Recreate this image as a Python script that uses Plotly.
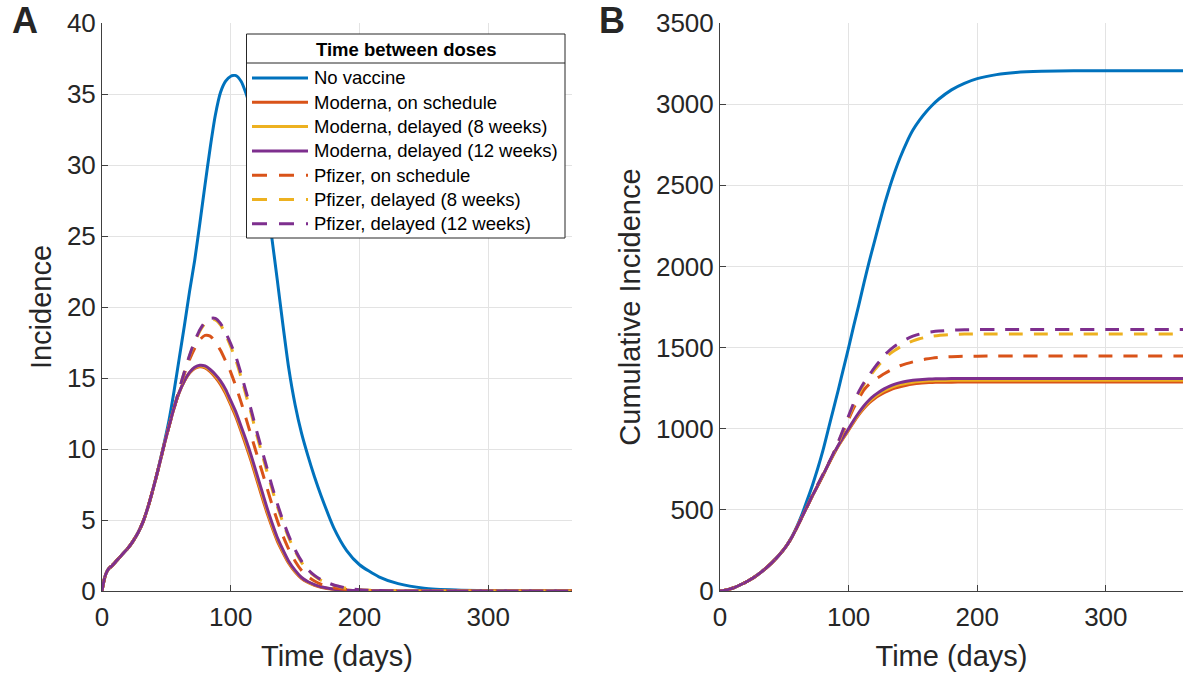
import plotly.graph_objects as go

# ---------------- data ----------------
days = [0, 1, 2, 3, 5, 8, 12, 16, 20, 24, 28, 32, 36, 40, 44, 48, 52, 56, 60, 64,
        68, 72, 76, 80, 84, 88, 92, 96, 100, 104, 108, 112, 116, 120, 124, 128, 132, 136, 140, 145,
        150, 155, 160, 165, 170, 180, 190, 200, 215, 230, 250, 275, 300, 330, 365]

series_names = ["No vaccine", "Moderna, on schedule", "Moderna, delayed (8 weeks)",
                "Moderna, delayed (12 weeks)", "Pfizer, on schedule",
                "Pfizer, delayed (8 weeks)", "Pfizer, delayed (12 weeks)"]
legend_title = "Time between doses"

# Panel A: incidence
inc_none = [0, 0.5, 0.9, 1.2, 1.55, 1.8, 2.2, 2.6, 3.0, 3.5, 4.1, 4.9, 6.0, 7.3, 8.75,
            10.3, 12.0, 14.1, 16.4, 18.7, 21.1, 23.3, 25.9, 28.6, 31.2, 33.5, 35.1, 35.9, 36.25, 36.3,
            35.9, 35.0, 33.8, 32.0, 29.9, 27.5, 24.8, 22.0, 19.1, 15.7, 13.1, 11.1, 9.5, 8.05, 6.75,
            4.45, 2.85, 1.85, 1.0, 0.52, 0.2, 0.07, 0.025, 0.008, 0.002]
inc_mod_sched = [0, 0.5, 0.9, 1.2, 1.55, 1.8, 2.2, 2.6, 3.0, 3.5, 4.1, 4.9, 6.0, 7.3, 8.7, 10.2, 11.6, 12.9, 14.0,
                 14.78, 15.35, 15.68, 15.8, 15.72, 15.45, 15.05, 14.55, 13.9, 13.1, 12.25, 11.25, 10.2, 9.1, 7.9,
                 6.7, 5.55, 4.5, 3.55, 2.8, 1.95, 1.33, 0.88, 0.6, 0.4, 0.27, 0.12, 0.05, 0.02, 0.01,
                 0, 0, 0, 0, 0, 0]
inc_mod_8 = [0, 0.5, 0.9, 1.2, 1.55, 1.8, 2.2, 2.6, 3.0, 3.5, 4.1, 4.9, 6.0, 7.3, 8.7, 10.2, 11.6, 12.9, 14.0,
             14.79, 15.38, 15.72, 15.85, 15.79, 15.53, 15.15, 14.68, 14.05, 13.25, 12.43, 11.43, 10.4, 9.3, 8.1,
             6.9, 5.72, 4.65, 3.68, 2.9, 2.03, 1.39, 0.92, 0.63, 0.43, 0.29, 0.125, 0.055, 0.022, 0.01,
             0, 0, 0, 0, 0, 0]
inc_mod_12 = [0, 0.5, 0.9, 1.2, 1.55, 1.8, 2.2, 2.6, 3.0, 3.5, 4.1, 4.9, 6.0, 7.3, 8.7, 10.2, 11.6, 12.9, 14.0,
              14.8, 15.4, 15.75, 15.9, 15.85, 15.6, 15.25, 14.8, 14.2, 13.4, 12.6, 11.6, 10.6, 9.5, 8.3,
              7.1, 5.9, 4.8, 3.8, 3.0, 2.1, 1.45, 0.95, 0.65, 0.45, 0.3, 0.13, 0.06, 0.025, 0.01,
              0, 0, 0, 0, 0, 0]
inc_pf_sched = [0, 0.5, 0.9, 1.2, 1.55, 1.8, 2.2, 2.6, 3.0, 3.5, 4.1, 4.9, 6.0, 7.3, 8.7, 10.2, 11.6, 12.9,
                14.15, 15.3, 16.3, 17.1, 17.7, 18.0, 17.95, 17.55, 16.95, 16.2, 15.4, 14.4, 13.3, 12.1, 10.9, 9.7,
                8.5, 7.3, 6.1, 5.0, 4.0, 2.95, 2.1, 1.45, 1.0, 0.7, 0.48, 0.22, 0.1, 0.04, 0.015, 0.005,
                0, 0, 0, 0, 0]
inc_pf_8 = [0, 0.5, 0.9, 1.2, 1.55, 1.8, 2.2, 2.6, 3.0, 3.5, 4.1, 4.9, 6.0, 7.3, 8.7, 10.2, 11.6, 12.9,
            14.2, 15.42, 16.55, 17.5, 18.3, 18.85, 19.1, 19.1, 18.75, 18.05, 17.2, 16.25, 15.05, 13.75, 12.45, 11.05,
            9.75, 8.45, 7.2, 6.0, 4.95, 3.75, 2.8, 2.0, 1.45, 1.05, 0.76, 0.4, 0.19, 0.085, 0.03, 0.01,
            0, 0, 0, 0, 0]
inc_pf_12 = [0, 0.5, 0.9, 1.2, 1.55, 1.8, 2.2, 2.6, 3.0, 3.5, 4.1, 4.9, 6.0, 7.3, 8.7, 10.2, 11.6, 12.9,
             14.2, 15.45, 16.6, 17.6, 18.4, 18.95, 19.2, 19.2, 18.85, 18.2, 17.4, 16.5, 15.3, 14.0, 12.7, 11.3,
             10.0, 8.7, 7.4, 6.2, 5.1, 3.9, 2.9, 2.1, 1.5, 1.1, 0.8, 0.42, 0.2, 0.09, 0.03, 0.01,
             0, 0, 0, 0, 0]

# Panel B: cumulative incidence
cum_none = [0, 1, 2, 3.5, 7, 13, 24, 39, 54, 72, 93, 116, 143, 172, 204, 240, 283, 336, 402,
            478, 565, 655, 755, 865, 990, 1115, 1240, 1370, 1500, 1635, 1765, 1900, 2030, 2150,
            2270, 2385, 2490, 2585, 2670, 2762, 2840, 2900, 2950, 2993, 3030, 3088, 3128, 3157,
            3182, 3195, 3202, 3205, 3206, 3206, 3206]
cum_mod_sched = [0, 1, 2, 3.5, 7, 13, 24, 39, 54, 72, 93, 116, 143, 172, 204, 240, 282, 333, 395, 460,
                 525, 589, 650, 711, 776, 837, 893, 943, 991, 1041, 1087, 1126, 1159, 1185, 1206, 1224,
                 1238, 1250, 1259, 1268, 1275, 1280, 1283, 1285, 1286, 1287, 1288, 1288, 1288, 1288,
                 1288, 1288, 1288, 1288, 1288]
cum_mod_8 = [0, 1, 2, 3.5, 7, 13, 24, 39, 54, 72, 93, 116, 143, 172, 204, 240, 282, 333, 395, 460,
             525, 589, 650, 711.5, 777, 838.5, 895.5, 946.5, 995.5, 1046.5, 1093.5, 1134, 1168, 1195, 1217, 1235.5,
             1250, 1262.5, 1271.5, 1280, 1286.5, 1291, 1294, 1296, 1297, 1298, 1298, 1298, 1298, 1298,
             1298, 1298, 1298, 1298, 1298]
cum_mod_12 = [0, 1, 2, 3.5, 7, 13, 24, 39, 54, 72, 93, 116, 143, 172, 204, 240, 282, 333, 395, 460,
              525, 589, 650, 712, 778, 840, 898, 950, 1000, 1052, 1100, 1142, 1177, 1205, 1228, 1247,
              1262, 1275, 1284, 1292, 1298, 1302, 1305, 1307, 1308, 1309, 1310, 1310, 1310, 1310,
              1310, 1310, 1310, 1310, 1310]
cum_pf_sched = [0, 1, 2, 3.5, 7, 13, 24, 39, 54, 72, 93, 116, 143, 172, 204, 240, 282, 333, 395, 460,
                525, 590, 652, 714, 776, 842, 912, 985, 1058, 1128, 1188, 1240, 1274, 1300, 1320, 1340,
                1358, 1374, 1388, 1401, 1412, 1421, 1429, 1435, 1439, 1444, 1446, 1447, 1448, 1448,
                1448, 1448, 1448, 1448, 1448]
cum_pf_8 = [0, 1, 2, 3.5, 7, 13, 24, 39, 54, 72, 93, 116, 143, 172, 204, 240, 282, 333, 395, 460,
            525, 591, 654, 716, 777, 841, 914, 992, 1070, 1148, 1216, 1275, 1318, 1360, 1397, 1433,
            1461, 1484, 1503, 1524, 1541, 1554, 1563, 1570, 1575, 1580, 1583, 1584, 1584, 1584,
            1584, 1584, 1584, 1584, 1584]
cum_pf_12 = [0, 1, 2, 3.5, 7, 13, 24, 39, 54, 72, 93, 116, 143, 172, 204, 240, 282, 333, 395, 460,
             525, 592, 655, 718, 780, 845, 920, 1000, 1080, 1160, 1230, 1285, 1330, 1375, 1415, 1455,
             1485, 1510, 1530, 1552, 1570, 1583, 1592, 1598, 1602, 1607, 1610, 1611, 1611, 1611,
             1611, 1611, 1611, 1611, 1611]

incidence = [inc_none, inc_mod_sched, inc_mod_8, inc_mod_12, inc_pf_sched, inc_pf_8, inc_pf_12]
cumulative = [cum_none, cum_mod_sched, cum_mod_8, cum_mod_12, cum_pf_sched, cum_pf_8, cum_pf_12]

# ---------------- styles ----------------
colors = ["#0072BD", "#D95319", "#EDB120", "#7E2F8E", "#D95319", "#EDB120", "#7E2F8E"]
dashes = ["solid", "solid", "solid", "solid", "14px,11px", "14px,11px", "14px,11px"]
FONT = "Liberation Sans, Arial, Helvetica, sans-serif"
W, H = 1183, 675

fig = go.Figure()
for i, name in enumerate(series_names):
    fig.add_trace(go.Scatter(x=days, y=incidence[i], name=name, mode="lines",
                             line=dict(color=colors[i], width=3, dash=dashes[i], shape="spline", smoothing=0.6),
                             xaxis="x", yaxis="y", showlegend=False))
for i, name in enumerate(series_names):
    fig.add_trace(go.Scatter(x=days, y=cumulative[i], name=name, mode="lines",
                             line=dict(color=colors[i], width=3, dash=dashes[i], shape="spline", smoothing=0.6),
                             xaxis="x2", yaxis="y2", showlegend=False))

axis_common = dict(
    showgrid=True, gridcolor="#e3e3e3", gridwidth=1,
    showline=True, linecolor="#404040", linewidth=1,
    ticks="inside", ticklen=6, tickcolor="#404040", tickwidth=1,
    zeroline=False, automargin=False,
    tickfont=dict(family=FONT, size=26, color="#262626"),
    title_font=dict(family=FONT, size=29, color="#262626"),
)

fig.update_layout(
    width=W, height=H, autosize=False,
    margin=dict(l=0, r=0, t=0, b=0),
    paper_bgcolor="white", plot_bgcolor="white",
    font=dict(family=FONT, color="#262626"),
    showlegend=False,
    xaxis=dict(domain=[102 / W, 572 / W], range=[0, 365], tickvals=[0, 100, 200, 300],
               ticklabelstandoff=3,
               title=dict(text="Time (days)", standoff=14), anchor="y", **axis_common),
    yaxis=dict(domain=[84 / H, 652 / H], range=[0, 40], dtick=5,
               title=dict(text="Incidence", standoff=6), anchor="x", **axis_common),
    xaxis2=dict(domain=[720 / W, 1.0], range=[0, 360], tickvals=[0, 100, 200, 300],
                ticklabelstandoff=3,
                title=dict(text="Time (days)", standoff=14), anchor="y2", **axis_common),
    yaxis2=dict(domain=[84 / H, 652 / H], range=[0, 3500], dtick=500,
                title=dict(text="Cumulative Incidence", standoff=6), anchor="x2", **axis_common),
)

# ---------------- legend box (panel A) ----------------
LX0, LX1, LY0, LY1 = 246.5, 565, 34, 238
fig.add_shape(type="rect", xref="paper", yref="paper", layer="above",
              x0=LX0 / W, x1=LX1 / W, y0=1 - LY0 / H, y1=1 - LY1 / H,
              fillcolor="white", line=dict(color="#262626", width=1))
fig.add_shape(type="line", xref="paper", yref="paper", layer="above",
              x0=LX0 / W, x1=LX1 / W, y0=1 - 63 / H, y1=1 - 63 / H,
              line=dict(color="#262626", width=1))
fig.add_annotation(text="<b>" + legend_title + "</b>", xref="paper", yref="paper",
                   x=406 / W, y=1 - 49.5 / H, xanchor="center", yanchor="middle", showarrow=False,
                   font=dict(family=FONT, size=18.5, color="#000000"))
legend_dashes = ["solid", "solid", "solid", "solid", "15px,12px", "15px,12px", "15px,12px"]
for i, name in enumerate(series_names):
    yc = 78 + i * 24.3
    fig.add_shape(type="line", xref="paper", yref="paper", layer="above",
                  x0=252 / W, x1=308 / W, y0=1 - yc / H, y1=1 - yc / H,
                  line=dict(color=colors[i], width=3, dash=legend_dashes[i]))
    fig.add_annotation(text=name, xref="paper", yref="paper",
                       x=312 / W, y=1 - yc / H, xanchor="left", yanchor="middle", showarrow=False,
                       font=dict(family=FONT, size=18.5, color="#000000"))

# panel letters
fig.add_annotation(text="<b>A</b>", xref="paper", yref="paper", x=25 / W, y=1 - 21 / H,
                   showarrow=False, font=dict(family=FONT, size=36, color="#262626"),
                   xanchor="center", yanchor="middle")
fig.add_annotation(text="<b>B</b>", xref="paper", yref="paper", x=612 / W, y=1 - 21 / H,
                   showarrow=False, font=dict(family=FONT, size=36, color="#262626"),
                   xanchor="center", yanchor="middle")

fig.write_html("out.html")
